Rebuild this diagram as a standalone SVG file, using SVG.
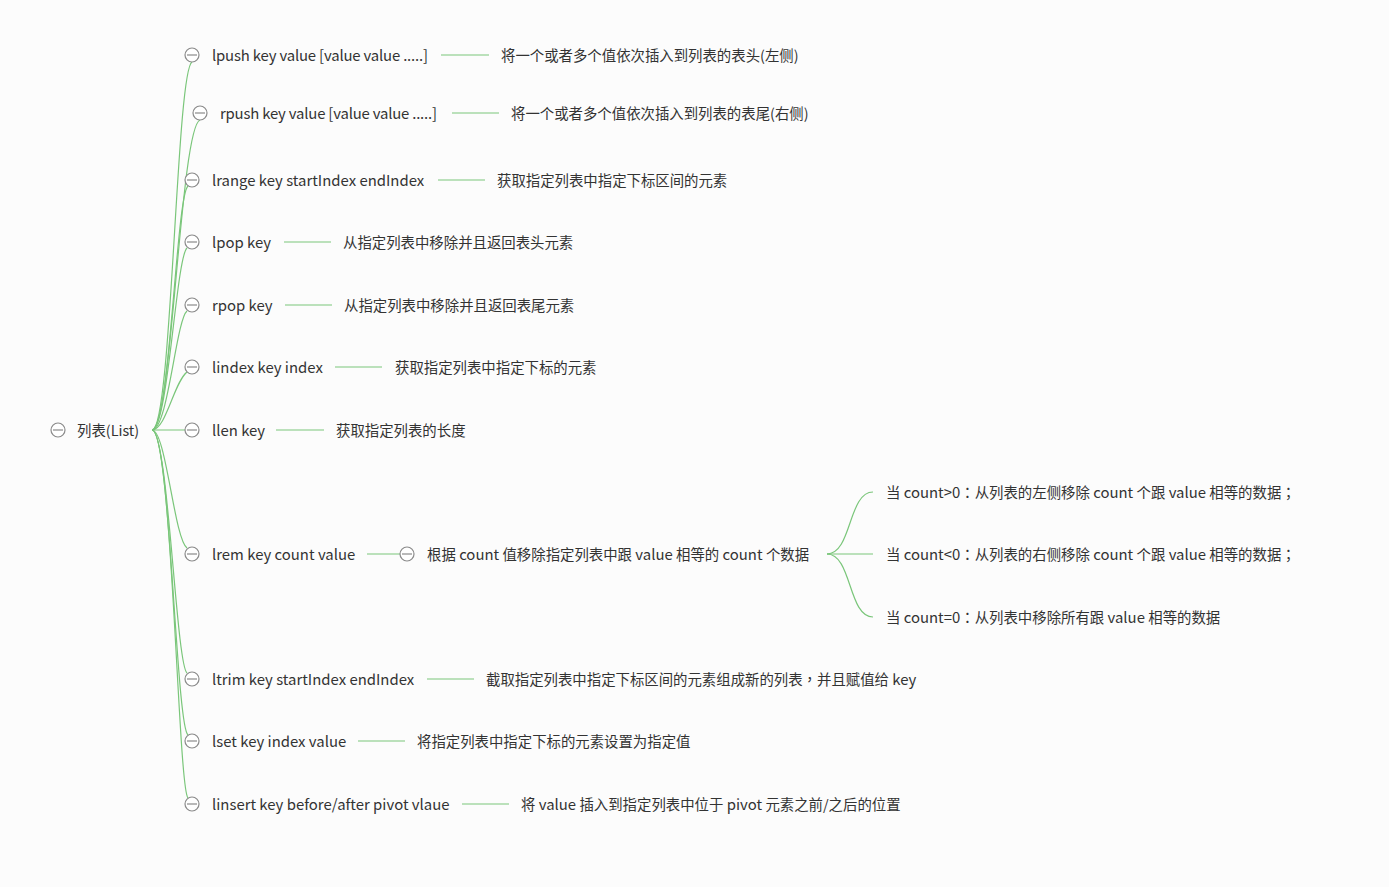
<svg xmlns="http://www.w3.org/2000/svg" width="1389" height="887" viewBox="0 0 1389 887">
<style>
.t{font-family:"Noto Sans CJK SC","Noto Sans",sans-serif;font-size:14.4px;fill:#333}
.e{font-size:14.9px}
.p{font-family:"Noto Sans CJK TC",sans-serif}
.c{fill:#fff;stroke:#8a8a8a;stroke-width:1.2}
.m{stroke:#8a8a8a;stroke-width:1.2}
.l{fill:none;stroke:#7ac67a;stroke-width:1.2}
</style>
<defs>
<g id="col"><circle class="c" cx="0" cy="0" r="7"/><line class="m" x1="-5" y1="0" x2="5" y2="0"/></g>
</defs>
<rect width="1389" height="887" fill="#fcfcfc"/>
<g id="connectors">
<path class="l" d="M152,430 C172,430 176,72 192,62"/>
<path class="l" d="M152,430 C172,430 180,128 200,120"/>
<path class="l" d="M152,430 C170,430 176,196 188,186"/>
<path class="l" d="M152,430 C168,430 176,258 187,248"/>
<path class="l" d="M152,430 C168,430 176,320 187,311"/>
<path class="l" d="M152,430 C166,430 174,382 187,372"/>
<path class="l" d="M152,430 L185,430"/>
<path class="l" d="M152,430 C166,430 174,538 187,548"/>
<path class="l" d="M152,430 C168,430 176,664 187,673"/>
<path class="l" d="M152,430 C170,430 176,726 188,735"/>
<path class="l" d="M152,430 C172,430 178,788 188,798"/>
<line class="l" x1="441" y1="55" x2="489" y2="55"/>
<line class="l" x1="452" y1="113" x2="499" y2="113"/>
<line class="l" x1="438" y1="180" x2="485" y2="180"/>
<line class="l" x1="284" y1="242" x2="331" y2="242"/>
<line class="l" x1="285" y1="305" x2="332" y2="305"/>
<line class="l" x1="335" y1="367" x2="382" y2="367"/>
<line class="l" x1="276" y1="430" x2="324" y2="430"/>
<line class="l" x1="367" y1="554" x2="400" y2="554"/>
<line class="l" x1="427" y1="679" x2="474" y2="679"/>
<line class="l" x1="358" y1="741" x2="405" y2="741"/>
<line class="l" x1="462" y1="804" x2="509" y2="804"/>
<path class="l" d="M827,554 C852,554 848,492 873,492"/>
<path class="l" d="M827,554 L873,554"/>
<path class="l" d="M827,554 C852,554 848,617 873,617"/>
</g>
<g id="root"><use href="#col" x="58" y="430"/><text class="t" x="77" y="436">列表(List)</text></g>
<g id="n-lpush"><use href="#col" x="192" y="55"/><text class="t e" x="212" y="61" textLength="216">lpush key value [value value .....]</text></g>
<g id="d-lpush"><text class="t" x="501" y="61">将一个或者多个值依次插入到列表的表头(左侧)</text></g>
<g id="n-rpush"><use href="#col" x="200" y="113"/><text class="t e" x="220" y="119" textLength="217">rpush key value [value value .....]</text></g>
<g id="d-rpush"><text class="t" x="511" y="119">将一个或者多个值依次插入到列表的表尾(右侧)</text></g>
<g id="n-lrange"><use href="#col" x="192" y="180"/><text class="t e" x="212" y="186">lrange key startIndex endIndex</text></g>
<g id="d-lrange"><text class="t" x="497" y="186">获取指定列表中指定下标区间的元素</text></g>
<g id="n-lpop"><use href="#col" x="192" y="242"/><text class="t e" x="212" y="248">lpop key</text></g>
<g id="d-lpop"><text class="t" x="343" y="248">从指定列表中移除并且返回表头元素</text></g>
<g id="n-rpop"><use href="#col" x="192" y="305"/><text class="t e" x="212" y="311">rpop key</text></g>
<g id="d-rpop"><text class="t" x="344" y="311">从指定列表中移除并且返回表尾元素</text></g>
<g id="n-lindex"><use href="#col" x="192" y="367"/><text class="t e" x="212" y="373">lindex key index</text></g>
<g id="d-lindex"><text class="t" x="395" y="373">获取指定列表中指定下标的元素</text></g>
<g id="n-llen"><use href="#col" x="192" y="430"/><text class="t e" x="212" y="436">llen key</text></g>
<g id="d-llen"><text class="t" x="336" y="436">获取指定列表的长度</text></g>
<g id="n-lrem"><use href="#col" x="192" y="554"/><text class="t e" x="212" y="560">lrem key count value</text></g>
<g id="d-lrem"><use href="#col" x="407" y="554"/><text class="t" x="427" y="560">根据<tspan class="e"> count </tspan>值移除指定列表中跟<tspan class="e"> value </tspan>相等的<tspan class="e"> count </tspan>个数据</text></g>
<g id="s1"><text class="t" x="886" y="498">当<tspan class="e"> count&gt;0</tspan><tspan class="p">：</tspan>从列表的左侧移除<tspan class="e"> count </tspan>个跟<tspan class="e"> value </tspan>相等的数据<tspan class="p">；</tspan></text></g>
<g id="s2"><text class="t" x="886" y="560">当<tspan class="e"> count&lt;0</tspan><tspan class="p">：</tspan>从列表的右侧移除<tspan class="e"> count </tspan>个跟<tspan class="e"> value </tspan>相等的数据<tspan class="p">；</tspan></text></g>
<g id="s3"><text class="t" x="886" y="623">当<tspan class="e"> count=0</tspan><tspan class="p">：</tspan>从列表中移除所有跟<tspan class="e"> value </tspan>相等的数据</text></g>
<g id="n-ltrim"><use href="#col" x="192" y="679"/><text class="t e" x="212" y="685">ltrim key startIndex endIndex</text></g>
<g id="d-ltrim"><text class="t" x="486" y="685">截取指定列表中指定下标区间的元素组成新的列表<tspan class="p">，</tspan>并且赋值给<tspan class="e"> key</tspan></text></g>
<g id="n-lset"><use href="#col" x="192" y="741"/><text class="t e" x="212" y="747">lset key index value</text></g>
<g id="d-lset"><text class="t" x="417" y="747">将指定列表中指定下标的元素设置为指定值</text></g>
<g id="n-linsert"><use href="#col" x="192" y="804"/><text class="t e" x="212" y="810">linsert key before/after pivot vlaue</text></g>
<g id="d-linsert"><text class="t" x="521" y="810">将<tspan class="e"> value </tspan>插入到指定列表中位于<tspan class="e"> pivot </tspan>元素之前/之后的位置</text></g>
</svg>
